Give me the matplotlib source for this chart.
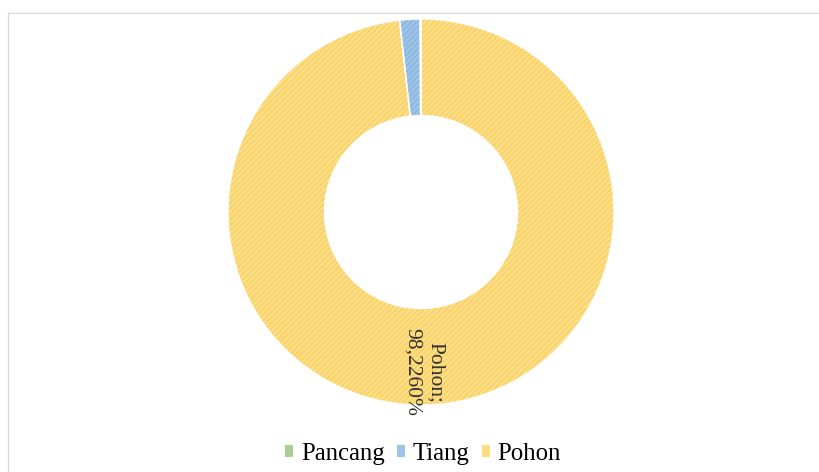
import matplotlib
matplotlib.use("Agg")
import matplotlib.pyplot as plt
from matplotlib.lines import Line2D
from matplotlib.patches import Rectangle

labels = ["Pancang", "Tiang", "Pohon"]
values = [0.07, 1.704, 98.226]
colors = ["#A9D18E", "#9DC3E6", "#FDDD82"]
hatch_colors = ["#8DB86F", "#7FAEDB", "#F3C95A"]

plt.rcParams["font.family"] = ["Liberation Serif", "DejaVu Serif"]
plt.rcParams["hatch.linewidth"] = 0.6

W, H = 819, 472
fig = plt.figure(figsize=(W / 100, H / 100), dpi=100)
# square axes, donut centre at (421, 212) px from top, radius 193 px
cx, cy, r = 421, 212, 193
ax = fig.add_axes([(cx - r) / W, (H - cy - r) / H, 2 * r / W, 2 * r / H])

kw = dict(startangle=90, counterclock=True, radius=1.0)
ax.pie(values, colors=colors, wedgeprops=dict(width=0.5, linewidth=0), **kw)
over, _ = ax.pie(values, colors=["none"] * 3,
                 wedgeprops=dict(width=0.5, linewidth=0), **kw)
for w, hc in zip(over, hatch_colors):
    w.set_hatch("//////")
    w.set_edgecolor(hc)
    w.set_linewidth(0)
ax.pie(values, colors=["none"] * 3,
       wedgeprops=dict(width=0.5, linewidth=1.0, edgecolor="white"), **kw)
ax.set_aspect("equal")
ax.set_xlim(-1, 1)
ax.set_ylim(-1, 1)

# data label for Pohon
ax.text(0.016, -0.83, f"Pohon;\n{values[2]:.4f}%".replace(".", ","),
        rotation=-90, ha="center", va="center", fontsize=15.5, color="#333333",
        linespacing=1.3)

handles = [Rectangle((0, 0), 1, 1, facecolor=c, edgecolor="none") for c in colors]
fig.legend(handles, labels, loc="center", ncol=3, frameon=False,
           fontsize=17.8, handlelength=0.33, handleheight=0.33, handletextpad=0.3,
           columnspacing=0.5, bbox_to_anchor=(423 / W, 1 - 454 / H))

# chart area border (top and left visible)
fig.add_artist(Line2D([8 / W, 1], [1 - 13 / H] * 2, transform=fig.transFigure,
                      color="#D9D9D9", linewidth=0.9))
fig.add_artist(Line2D([8 / W] * 2, [0, 1 - 13 / H], transform=fig.transFigure,
                      color="#D9D9D9", linewidth=0.9))

fig.savefig("out.png", dpi=100)
